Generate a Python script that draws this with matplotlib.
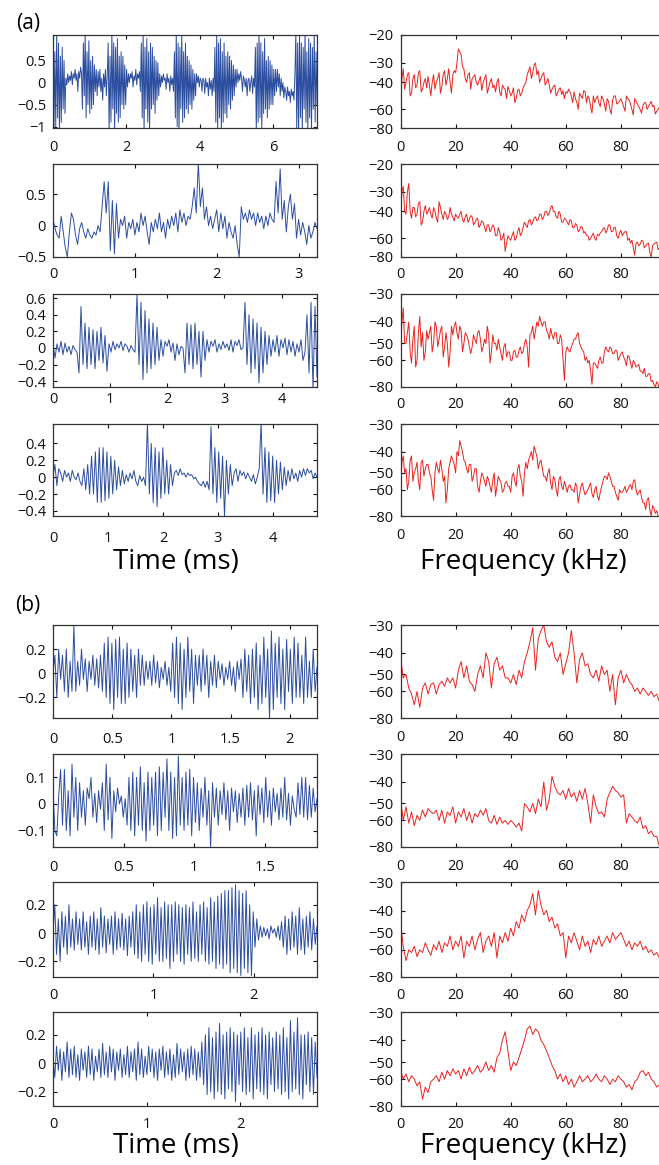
import numpy as np
import matplotlib
matplotlib.use("Agg")
import matplotlib.pyplot as plt
from matplotlib.ticker import FuncFormatter

plt.rcParams['font.family'] = ['Open Sans', 'DejaVu Sans']

# ---------------- data ----------------
# time-domain traces (amplitude), evenly sampled from 0 to TRACE_END (ms)
A1_SIGNAL = [1.15, -1.15, 0.7, -1.0, 1.15, -0.8, 0.9, -1.15, 0.6, -0.9, 0.8, -0.6, 0.5, -0.7,
             0.1, -0.05, 0.2, 0.0, 0.15, 0.05, 0.25, -0.05, 0.2, 0.1, 0.3, 0.05, 0.2, -0.2, 0.25, 0.1, 0.35, 0.2,
             -0.6, 0.9, -0.3, 1.15, -0.8, 0.7, -0.5, 0.95, -0.7, 0.5, -0.6, 0.6,
             -0.5, 0.4, -0.2, 0.3, -0.3, 0.25, -0.1, 0.3, -0.2, 0.1, -0.4, 0.2, -0.1, 0.3, -0.3, 0.2,
             0.9, -1.15, 0.6, -0.9, 1.15, -0.6, 0.9, -1.15, 0.8, -0.7, 1.0, -0.9, 0.6, -0.8, 0.7, -0.5,
             0.6, -0.6, 0.4, -0.5,
             0.3, -0.1, 0.2, 0.0, 0.2, 0.1, 0.25, -0.1, 0.15, 0.05, 0.3, -0.05, 0.2, 0.1, 0.25, -0.2,
             0.9, -0.8, 1.15, -1.15, 0.8, -0.6, 1.0, -0.9, 0.7, -1.15, 0.9, -0.6, 0.8, -0.5, 0.6, -0.7,
             0.5, -0.4, 0.45, -0.3,
             0.2, -0.1, 0.15, 0.0, 0.2, 0.05, 0.1, -0.15, 0.2, 0.0, 0.1, -0.2, 0.15, -0.05, 0.1, -0.2,
             0.7, -0.8, 1.15, -1.0, 0.9, -1.15, 0.8, -0.6, 1.15, -0.9, 0.7, -0.8, 0.9, -0.6, 0.6, -0.7,
             0.5, -0.5, 0.4, -0.6, 0.3, -0.4,
             0.2, -0.3, 0.2, 0.0, 0.15, -0.1, 0.1, 0.05, -0.2, 0.1, 0.05, -0.25, 0.1, -0.1, 0.0, -0.3,
             0.1, -0.15, 0.05, -0.3, 0.1, -0.2,
             0.8, -0.9, 1.15, -1.15, 0.9, -0.8, 1.0, -1.15, 0.7, -0.9, 0.9, -0.7, 0.6, -0.8, 0.7, -0.5,
             0.6, -0.6, 0.5, -0.4, 0.4, -0.3,
             0.3, -0.1, 0.3, 0.0, 0.2, 0.05, 0.25, 0.1, -0.2, 0.15, 0.05, -0.1, 0.1, -0.3, 0.05, 0.1,
             -0.2, 0.0, 0.15, -0.25, 0.1, -0.1,
             0.8, -1.15, 0.9, -0.9, 1.15, -0.8, 0.9, -1.15, 0.7, -0.7, 1.0, -0.6, 0.5, -0.8, 0.6, -0.6,
             0.5, -0.5, 0.4, -0.5, 0.3, -0.3,
             0.3, -0.2, 0.3, -0.1, 0.2, -0.3, 0.1, -0.2, 0.0, -0.35, -0.1, -0.2, -0.4, -0.1, -0.3, -0.2,
             -0.45, -0.15, -0.3, -0.2, -0.4, 0.2,
             1.15, -1.15, 0.9, -1.15, 1.15, -0.8, 0.9, -1.15, 0.8, -0.6, 1.15, -0.9, 0.7, -1.15, 1.0, -0.8,
             0.9, -1.15, 0.8, -0.6, 1.15, -0.9, 0.7, -0.5]

A2_SIGNAL = [0.1, -0.05, -0.15, -0.2, 0.15, -0.1, -0.35, -0.5,
             -0.1, 0.2, 0.1, -0.15, -0.3, -0.05, 0.05, -0.1,
             -0.2, -0.05, -0.15, -0.2, -0.1, -0.15, 0.0, -0.1,
             0.3, 0.7, 0.2, 0.7, -0.4, 0.4, -0.45, 0.35,
             -0.2, 0.1, 0.0, 0.15, -0.2, 0.05, -0.05, 0.1,
             -0.15, 0.05, -0.1, 0.2, 0.0, 0.15, -0.1, -0.3,
             0.05, -0.1, 0.1, -0.05, 0.2, -0.1, 0.05, -0.2,
             0.1, -0.05, 0.15, 0.0, 0.2, -0.1, 0.25, 0.05,
             0.2, 0.0, 0.15, 0.1, 0.3, 0.6, 0.2, 1.0,
             0.3, 0.6, 0.1, 0.3, 0.0, 0.15, -0.05, 0.1,
             0.25, -0.1, 0.2, -0.05, 0.15, -0.2, 0.05, -0.1,
             -0.2, 0.0, -0.3, -0.5, 0.3, 0.1, 0.2, 0.05,
             0.25, 0.1, 0.2, 0.0, 0.2, 0.05, 0.15, -0.05,
             0.15, 0.0, 0.2, 0.1, 0.05, 0.7, 0.2, 0.9,
             0.1, 0.4, -0.1, 0.3, 0.5, 0.1, 0.35, -0.2,
             0.1, -0.15, 0.05, -0.1, -0.3, 0.0, -0.2, -0.1,
             0.05, -0.05]

A3_SIGNAL = [0.05, -0.12, 0.05, -0.05, 0.08, -0.08, 0.06, -0.05, 0.02, -0.08, 0.03, -0.02, -0.05,
             -0.3, 0.5, -0.2, 0.3, -0.25, 0.25, -0.2, 0.22, -0.25, 0.2, -0.15, 0.25, -0.18, 0.15, -0.28,
             0.05, -0.05, 0.08, -0.02, 0.05, 0.0, 0.08, -0.03, 0.05, 0.02, -0.05, 0.03, -0.02, -0.05,
             0.65, -0.2, 0.55, -0.38, 0.45, -0.3, 0.35, -0.25, 0.3, -0.2, 0.25, -0.15, 0.1, -0.1,
             0.08, 0.02, 0.1, -0.05, 0.06, -0.15, 0.05, -0.08, 0.02, 0.0,
             -0.3, 0.3, -0.2, 0.28, -0.25, 0.3, -0.2, 0.2, -0.35, 0.2, -0.15, 0.1,
             -0.05, 0.08, 0.02, 0.1, -0.05, 0.05, -0.02, 0.08, 0.0, 0.05, -0.03, 0.1, -0.05, 0.08, 0.03, 0.1, -0.02, 0.0,
             0.55, -0.2, 0.4, -0.3, 0.35, -0.25, 0.3, -0.42, 0.25, -0.3, 0.2, -0.2, 0.15, -0.1, 0.1,
             -0.05, 0.15, -0.1, 0.1, 0.0, 0.12, -0.08, 0.1, -0.05, 0.08, -0.1, 0.05, -0.05, 0.1, -0.15, -0.05,
             0.4, -0.3, 0.55, -0.5, 0.5, -0.35]

A4_SIGNAL = [0.0, 0.15, -0.1, 0.1, 0.05, -0.05, 0.08, 0.0, 0.05, -0.05, 0.08, 0.0, -0.03, 0.05, -0.05,
             -0.1, 0.1, -0.15, 0.15, -0.2, 0.25, -0.2, 0.3, -0.3, 0.35, -0.3, 0.35, -0.28, 0.3, -0.25,
             0.25, -0.2, 0.2, -0.15, 0.12, -0.1, 0.08, -0.08,
             0.03, -0.05, 0.05, -0.02, 0.08, -0.05, -0.1, 0.02, -0.05, 0.0, -0.1,
             0.65, -0.2, 0.4, -0.3, 0.35, -0.35, 0.3, -0.25, 0.35, -0.2, 0.2, -0.2, 0.15, -0.1,
             0.05, 0.08, 0.02, 0.1, 0.03, 0.05, 0.0, 0.05, 0.02, 0.03, -0.02, 0.0, -0.05, -0.08, -0.1,
             -0.05, -0.12, -0.05, -0.15,
             0.6, -0.2, 0.35, -0.3, 0.3, -0.25, 0.25, -0.47, 0.2, -0.2, 0.15, -0.1,
             0.05, 0.1, -0.05, 0.08, 0.02, 0.06, -0.02, 0.05, 0.0, -0.05, 0.03, -0.08, 0.0,
             0.1, 0.65, -0.2, 0.35, -0.3, 0.3, -0.28, 0.25, -0.3, 0.2, -0.2, 0.18, -0.15, 0.12, -0.1,
             0.08, -0.05, 0.1, -0.02, 0.05, -0.05, 0.08, 0.0, 0.1, 0.02, 0.1, 0.05, 0.08, -0.02, 0.05, 0.0]

B1_SIGNAL = [0.0, 0.15, -0.2, 0.2, -0.05, 0.15, -0.15, 0.2, -0.2, 0.1, -0.15, 0.4, -0.15,
             0.1, -0.1, 0.2, -0.05, 0.12, -0.15, 0.1, -0.05, 0.15, -0.1, 0.12, -0.12, 0.15,
             -0.15, 0.25, -0.2, 0.3, -0.25, 0.25, -0.3, 0.28, -0.2, 0.3, -0.25, 0.2, -0.25, 0.25,
             -0.2, 0.2, -0.15, 0.15, -0.2, 0.2, -0.1, 0.15, -0.1, 0.1,
             -0.05, 0.1, -0.1, 0.15, -0.08, 0.1, -0.12, 0.05, -0.05, 0.1, -0.1, 0.05, -0.15,
             0.25, -0.2, 0.3, -0.25, 0.25, -0.3, 0.2, -0.2, 0.3, -0.15, 0.2, -0.25, 0.15,
             -0.1, 0.15, -0.15, 0.2, -0.1, 0.15, -0.2, 0.1, -0.1, 0.15, -0.12, 0.1, -0.05, 0.08,
             -0.1, 0.05, -0.05, 0.1,
             -0.1, 0.05, -0.15, 0.1, -0.05, 0.12, -0.2, 0.2, -0.15, 0.15, -0.25, 0.2, -0.2,
             0.25, -0.3, 0.15, -0.25, 0.3, -0.2, 0.2, -0.38, 0.35, -0.3, 0.25, -0.2, 0.3, -0.25,
             0.2, -0.3, 0.28, -0.15, 0.2, -0.25, 0.3, -0.2, 0.25, -0.2, 0.15, -0.25, 0.3, -0.2,
             0.1, -0.2, 0.2, -0.15, 0.05]

B2_SIGNAL = [0.05, -0.1, -0.12, 0.03, 0.13, -0.08, 0.13, -0.1, 0.05, -0.12, 0.15, -0.05, 0.1, -0.1,
             0.08, -0.05, 0.05, -0.08, 0.06, 0.02,
             0.1, -0.05, 0.04, -0.07, 0.05, -0.02, 0.08, -0.1, 0.15, -0.06, 0.1, -0.13, 0.05, -0.03,
             0.06, 0.0, 0.03, -0.05, 0.02, -0.08,
             0.1, -0.1, 0.12, -0.12, 0.1, -0.08, 0.14, -0.1, 0.08, -0.14, 0.12, -0.1, 0.1, -0.08,
             0.12, -0.12, 0.14, -0.1, 0.12, -0.05,
             0.17, -0.1, 0.12, -0.13, 0.1, -0.12, 0.18, -0.08, 0.1, -0.1, 0.12, -0.08, 0.13, -0.12,
             0.1, -0.07, 0.08, -0.1, 0.06, -0.05,
             0.1, -0.08, 0.05, -0.165, 0.08, -0.05, 0.06, -0.08, 0.05, -0.04, 0.08, -0.06, 0.05, -0.1,
             0.06, -0.03, 0.05, -0.07, 0.04, -0.05,
             0.06, -0.08, 0.07, -0.05, 0.08, -0.06, 0.05, -0.12, 0.07, -0.04, 0.06, -0.07, 0.1, -0.05,
             0.05, -0.08, 0.06, -0.03, 0.04, -0.06,
             0.06, -0.05, 0.1, -0.06, 0.04, -0.08, 0.03, -0.02, -0.05, 0.08, -0.04, 0.1, -0.05, 0.1,
             -0.06, 0.07, -0.05, 0.06, -0.03, 0.02]

B3_SIGNAL = [0.0, 0.2, -0.15, 0.1, -0.2, 0.15, -0.1, 0.12, -0.15, 0.2, -0.1, 0.1, -0.12, 0.15, -0.08,
             0.1, -0.12, 0.15, -0.1, 0.08, -0.15, 0.12, -0.1, 0.15, -0.12, 0.1, -0.15, 0.18, -0.1, 0.12,
             -0.14, 0.1, -0.08, 0.12, -0.15, 0.15, -0.12, 0.1, -0.1, 0.14, -0.12, 0.1, -0.16, 0.12, -0.1,
             0.15, -0.15, 0.2, -0.18, 0.15, -0.2, 0.2, -0.15, 0.22, -0.2, 0.18, -0.22, 0.2, -0.15, 0.25,
             -0.2, 0.18, -0.2, 0.22, -0.18, 0.2, -0.25, 0.2, -0.2, 0.22, -0.15, 0.2, -0.2, 0.18, -0.22,
             0.2, -0.15, 0.18, -0.2, 0.22, -0.18, 0.15, -0.2, 0.2, -0.15, 0.22, -0.2, 0.18, -0.22, 0.25,
             -0.2, 0.22, -0.25, 0.26, -0.22, 0.28, -0.25, 0.3, -0.22, 0.3,
             -0.28, 0.32, -0.25, 0.34, -0.28, 0.3, -0.3, 0.28, -0.25, 0.3, -0.28, 0.2, -0.3, 0.15, -0.1,
             0.1, -0.05,
             0.05, -0.03, 0.04, -0.02, 0.03, -0.04, 0.05, 0.0, 0.03, -0.03, 0.05, -0.05, 0.08,
             -0.1, 0.12, -0.15, 0.1, -0.12, 0.15, -0.1, 0.12, -0.15, 0.18, -0.12, 0.1, -0.15, 0.12, -0.1,
             0.15, -0.12, 0.1, -0.08, 0.05]

B4_SIGNAL = [0.05, -0.1, 0.12, -0.05, 0.1, -0.12, 0.08, -0.06, 0.15, -0.1, 0.1, -0.08, 0.12, -0.1,
             0.06, -0.12, 0.1, -0.05, 0.08, -0.1, 0.12, -0.08, 0.1, -0.12, 0.05, -0.06, 0.1, -0.1,
             0.14, -0.08, 0.08, -0.1, 0.12, -0.06, 0.1, -0.12, 0.08, -0.05, 0.1, -0.1, 0.06, -0.08,
             0.12, -0.1, 0.08, -0.06, 0.1, -0.12, 0.15, -0.08, 0.1, -0.1, 0.05, -0.08, 0.12, -0.06,
             0.1, -0.1, 0.08, -0.12, 0.1, -0.05, 0.12, -0.1, 0.08, -0.08, 0.1, -0.12, 0.06, -0.1,
             0.14, -0.08, 0.1, -0.06, 0.08, -0.12, 0.1, -0.1, 0.12, -0.08, 0.1, -0.12, 0.08, -0.1, 0.15,
             -0.15, 0.2, -0.22, 0.25, -0.2, 0.18, -0.25, 0.22, -0.2, 0.28, -0.22, 0.2, -0.25, 0.22,
             -0.18, 0.25, -0.2, 0.22, -0.27, 0.2, -0.15, 0.22, -0.2, 0.25, -0.22, 0.18, -0.2, 0.25,
             -0.25, 0.2, -0.18, 0.22, -0.2, 0.25, -0.22, 0.2, -0.25, 0.22, -0.15, 0.18, -0.2, 0.22,
             -0.18, 0.2, -0.22, 0.25, -0.2, 0.18, -0.25, 0.3, -0.2, 0.22, -0.18, 0.32, -0.22, 0.2,
             -0.25, 0.2, -0.15, 0.22, -0.2, 0.18, -0.22, 0.15, -0.1]

TRACE_END = [7.2, 3.225, 4.62, 4.8, 2.23, 1.87, 2.63, 2.82]   # ms

# spectra (dB) from 0 to 100 kHz, evenly spaced
A1_SPEC = [-60, -38, -33, -45, -40, -36, -35, -50, -48, -38, -36, -44, -42, -35, -34, -47, -45, -40, -38, -44, -37,
           -42, -50, -40, -36, -45, -40, -38, -35, -48, -43, -36, -34, -42, -38, -33, -40, -48, -36, -34, -35,
           -30, -25, -26, -27, -32, -33, -38, -40, -36, -35, -45, -38, -37, -36, -40, -42, -39, -37, -46, -40,
           -38, -36, -48, -44, -40, -38, -44, -42, -47, -40, -38, -47, -50, -42, -44, -45, -52, -43, -46, -50,
           -48, -44, -55, -52, -46, -45, -50, -48, -44, -42, -40, -36, -34, -32, -38, -35, -31, -30, -36, -34,
           -40, -38, -36, -35, -42, -40, -38, -42, -48, -45, -43, -42, -50, -48, -45, -44, -49, -46, -52, -47,
           -48, -45, -47, -50, -55, -47, -52, -55, -60, -48, -50, -52, -46, -47, -55, -50, -52, -58, -64, -50,
           -55, -52, -50, -55, -58, -50, -52, -56, -62, -52, -54, -60, -65, -53, -50, -50, -56, -55, -54, -52,
           -55, -58, -62, -50, -52, -53, -56, -60, -66, -52, -54, -56, -58, -60, -64, -57, -55, -55, -60, -58,
           -56, -54, -58, -57, -65, -62, -60, -58, -56, -60, -64, -57, -58, -61, -60, -59, -62, -62, -58, -60]
A2_SPEC = [-50, -30, -28, -40, -42, -30, -27, -40, -45, -38, -38, -44, -42, -36, -35, -50, -48, -40, -37, -42, -40,
           -38, -42, -45, -38, -40, -45, -48, -35, -38, -42, -46, -40, -42, -46, -44, -38, -42, -44, -47, -42,
           -44, -45, -42, -40, -46, -48, -44, -42, -48, -46, -43, -44, -50, -48, -46, -45, -52, -50, -47, -48,
           -52, -55, -50, -50, -55, -53, -50, -52, -58, -58, -52, -55, -62, -60, -56, -74, -65, -58, -60, -62,
           -58, -55, -62, -60, -55, -52, -58, -56, -52, -48, -50, -52, -47, -46, -50, -48, -45, -44, -47, -46,
           -42, -42, -46, -44, -40, -40, -43, -41, -38, -37, -40, -40, -44, -45, -40, -42, -48, -48, -45, -46,
           -48, -50, -46, -47, -52, -52, -49, -50, -55, -54, -51, -52, -56, -55, -58, -58, -62, -60, -58, -56,
           -60, -62, -57, -58, -56, -55, -53, -52, -56, -54, -50, -50, -55, -55, -52, -52, -58, -60, -56, -54,
           -58, -56, -55, -55, -62, -60, -65, -62, -70, -78, -65, -64, -68, -66, -62, -63, -70, -68, -66, -65,
           -75, -80, -68, -66, -65, -64, -72, -70, -66, -68, -74, -72, -68, -70, -76, -74, -70, -72, -76, -75]
A3_SPEC = [-58, -40, -35, -50, -50, -45, -40, -55, -62, -48, -42, -65, -60, -45, -38, -52, -45, -60, -55, -44, -48,
           -45, -42, -55, -50, -40, -42, -52, -48, -44, -42, -58, -52, -45, -50, -65, -55, -42, -46, -42, -40,
           -45, -48, -42, -44, -55, -50, -45, -46, -48, -52, -56, -52, -46, -48, -50, -45, -44, -48, -55, -52,
           -48, -50, -42, -46, -62, -55, -46, -50, -50, -54, -48, -52, -56, -60, -52, -50, -58, -55, -55, -60,
           -60, -55, -54, -58, -58, -54, -52, -56, -55, -50, -48, -52, -65, -46, -45, -42, -48, -44, -40, -42,
           -38, -40, -42, -40, -40, -44, -45, -48, -43, -46, -48, -45, -45, -50, -50, -46, -48, -60, -75, -55,
           -52, -54, -55, -52, -50, -48, -48, -46, -45, -50, -52, -54, -55, -60, -58, -62, -60, -68, -78, -62,
           -62, -64, -66, -60, -58, -62, -62, -55, -52, -54, -55, -52, -53, -56, -56, -54, -54, -60, -58, -56,
           -55, -58, -60, -64, -57, -58, -62, -66, -60, -62, -65, -64, -63, -68, -68, -70, -66, -72, -72, -70,
           -70, -76, -75, -78, -80, -76, -78, -82, -80, -78, -78, -82, -82, -80, -80, -84, -82, -80, -82, -82]
A4_SPEC = [-60, -45, -42, -50, -48, -60, -55, -44, -42, -55, -50, -48, -45, -55, -60, -45, -44, -52, -48, -46, -46,
           -50, -52, -60, -68, -50, -45, -48, -50, -44, -48, -55, -52, -70, -60, -48, -45, -42, -44, -46, -50,
           -40, -42, -36, -38, -40, -44, -45, -48, -50, -46, -46, -55, -52, -48, -48, -58, -62, -55, -50, -52,
           -55, -58, -52, -54, -58, -62, -54, -50, -65, -58, -52, -54, -56, -62, -60, -56, -55, -58, -58, -62,
           -52, -50, -55, -58, -48, -46, -52, -55, -65, -50, -45, -48, -44, -42, -40, -44, -38, -40, -42, -48,
           -45, -44, -48, -52, -52, -55, -50, -48, -56, -60, -52, -54, -60, -65, -54, -52, -58, -60, -55, -58,
           -62, -58, -57, -60, -60, -62, -56, -58, -70, -64, -58, -56, -60, -64, -62, -60, -58, -56, -63, -66,
           -60, -58, -65, -68, -62, -58, -55, -52, -52, -54, -50, -52, -55, -58, -58, -62, -65, -68, -60, -62,
           -62, -60, -58, -62, -60, -58, -57, -60, -55, -54, -60, -64, -62, -60, -66, -70, -70, -75, -68, -66,
           -75, -80, -72, -74, -78, -76, -80, -82, -76, -74, -80, -82, -78, -80, -82, -84, -80, -78, -82, -82]
B1_SPEC = [-42, -52, -50, -58, -62, -70, -60, -72, -58, -55, -62, -56, -55, -62, -56, -54, -57, -52, -55, -52,
           -58, -48, -44, -52, -46, -54, -56, -60, -50, -46, -52, -40, -44, -58, -45, -42, -48, -46, -52, -52,
           -55, -50, -56, -48, -52, -44, -40, -36, -31, -48, -35, -32, -30, -36, -38, -36, -42, -44, -40, -50,
           -45, -40, -32, -40, -55, -43, -40, -46, -45, -50, -52, -48, -54, -46, -50, -48, -60, -50, -70, -52,
           -48, -55, -50, -54, -56, -60, -58, -62, -58, -60, -63, -60, -64, -62, -68, -72, -74, -72, -75, -74, -76]
B2_SPEC = [-48, -60, -52, -62, -55, -64, -57, -60, -54, -58, -53, -55, -56, -54, -60, -54, -62, -55, -57, -52,
           -62, -55, -58, -53, -60, -55, -62, -56, -58, -54, -57, -53, -60, -62, -57, -63, -58, -62, -60, -63,
           -60, -62, -65, -62, -68, -50, -52, -55, -50, -56, -48, -52, -40, -54, -48, -38, -42, -45, -46, -44,
           -48, -43, -47, -45, -49, -44, -48, -43, -50, -62, -46, -52, -56, -55, -58, -48, -45, -42, -44, -45,
           -47, -46, -62, -56, -58, -60, -62, -58, -66, -64, -70, -68, -72, -72, -80, -76, -80, -78, -82, -80, -82]
B3_SPEC = [-45, -58, -68, -60, -62, -58, -65, -60, -62, -56, -60, -64, -57, -60, -55, -62, -56, -58, -52, -60,
           -55, -58, -52, -66, -55, -58, -52, -60, -54, -50, -62, -55, -52, -58, -50, -66, -52, -56, -50, -55,
           -48, -52, -45, -48, -42, -45, -40, -38, -34, -42, -33, -38, -42, -40, -45, -43, -48, -46, -52, -50,
           -66, -52, -56, -50, -55, -60, -52, -58, -55, -62, -54, -57, -52, -58, -55, -52, -56, -50, -54, -52,
           -50, -54, -58, -55, -60, -56, -58, -55, -60, -58, -62, -60, -64, -62, -66, -64, -66, -68, -66, -70, -68]
B4_SPEC = [-55, -60, -57, -62, -58, -60, -65, -62, -75, -66, -70, -62, -60, -58, -62, -56, -60, -55, -58, -54,
           -57, -55, -60, -54, -58, -53, -57, -55, -52, -56, -54, -50, -55, -52, -56, -48, -46, -40, -37, -45,
           -55, -50, -52, -48, -44, -40, -36, -35, -38, -36, -37, -40, -42, -45, -48, -52, -55, -60, -57, -62,
           -58, -64, -60, -66, -62, -58, -62, -60, -58, -62, -60, -57, -60, -62, -58, -60, -64, -60, -62, -58,
           -60, -62, -66, -64, -68, -62, -60, -56, -55, -58, -56, -60, -62, -66, -64, -68, -66, -70, -68, -72, -70]

SIGNALS = [A1_SIGNAL, A2_SIGNAL, A3_SIGNAL, A4_SIGNAL, B1_SIGNAL, B2_SIGNAL, B3_SIGNAL, B4_SIGNAL]
SPECTRA = [A1_SPEC, A2_SPEC, A3_SPEC, A4_SPEC, B1_SPEC, B2_SPEC, B3_SPEC, B4_SPEC]
FREQ_END = 100  # kHz

TIME_XTICKS = [[0, 2, 4, 6], [0, 1, 2, 3], [0, 1, 2, 3, 4], [0, 1, 2, 3, 4],
               [0, 0.5, 1, 1.5, 2], [0, 0.5, 1, 1.5], [0, 1, 2], [0, 1, 2]]
TIME_YTICKS = [[-1, -0.5, 0, 0.5], [-0.5, 0, 0.5], [-0.4, -0.2, 0, 0.2, 0.4, 0.6],
               [-0.4, -0.2, 0, 0.2, 0.4], [-0.2, 0, 0.2], [-0.1, 0, 0.1], [-0.2, 0, 0.2], [-0.2, 0, 0.2]]
TIME_YLIM = [(-1.03, 1.08), (-0.49, 0.98), (-0.47, 0.65), (-0.46, 0.63),
             (-0.37, 0.40), (-0.162, 0.188), (-0.31, 0.36), (-0.30, 0.36)]
FREQ_XTICKS = [0, 20, 40, 60, 80]
SPEC_YTICKS_A = [-80, -60, -40, -30, -20]
SPEC_YTICKS_B = [-80, -60, -50, -40, -30]

# ---------------- layout ----------------
W, H = 659, 1165
fig = plt.figure(figsize=(W / 100, H / 100), dpi=100)

ROWS = [(35, 128), (164, 257), (294, 387), (424, 516),
        (625, 718), (754, 847), (882, 977), (1012, 1106)]
LEFT_X = (53, 317)
RIGHT_X = (400.5, 676)
LEFT_PAD = [12, 10, 5, 15, 14, 13, 11, 11]
RIGHT_PAD = [12, 10, 10, 12, 12, 12, 11, 11]

BLUE = '#2c4ea0'
RED = '#e8231d'
SPINE = '#333333'


def add_ax(xr, yr):
    x0, x1 = xr
    y0, y1 = yr
    return fig.add_axes([x0 / W, 1 - y1 / H, (x1 - x0) / W, (y1 - y0) / H])


def num_fmt(v, pos=None):
    if abs(v) < 1e-9:
        return '0'
    return ('%g' % round(v, 6)).replace('-', '\u2212')


def piecewise(vals, fracs):
    vals = np.asarray(vals, float)
    fracs = np.asarray(fracs, float)

    def mk(xs, ys):
        s0 = (ys[1] - ys[0]) / (xs[1] - xs[0])
        s1 = (ys[-1] - ys[-2]) / (xs[-1] - xs[-2])

        def f(v):
            v = np.asarray(v, float)
            out = np.interp(v, xs, ys)
            out = np.where(v < xs[0], ys[0] + (v - xs[0]) * s0, out)
            out = np.where(v > xs[-1], ys[-1] + (v - xs[-1]) * s1, out)
            return out
        return f
    return mk(vals, fracs), mk(fracs, vals)


SCALE_A = piecewise(SPEC_YTICKS_A, [0.0, 0.20, 0.49, 0.70, 1.0])
SCALE_B = piecewise(SPEC_YTICKS_B, [0.0, 0.286, 0.468, 0.70, 1.0])


def style(ax, pad_px):
    ax.tick_params(direction='in', top=True, right=True, length=3, width=0.8,
                   labelsize=10.5, colors='#111111')
    ax.tick_params(axis='x', pad=pad_px * 0.72)
    ax.tick_params(axis='y', pad=5)
    for s in ax.spines.values():
        s.set_linewidth(0.9)
        s.set_color(SPINE)


for i in range(8):
    # time trace
    ax = add_ax(LEFT_X, ROWS[i])
    sig = np.asarray(SIGNALS[i], float)
    t = np.linspace(0, TRACE_END[i], len(sig))
    ax.plot(t, sig, color=BLUE, lw=0.7)
    ax.set_xlim(0, TRACE_END[i])
    ax.set_ylim(*TIME_YLIM[i])
    ax.set_xticks(TIME_XTICKS[i])
    ax.set_yticks(TIME_YTICKS[i])
    ax.xaxis.set_major_formatter(FuncFormatter(num_fmt))
    ax.yaxis.set_major_formatter(FuncFormatter(num_fmt))
    style(ax, LEFT_PAD[i])

    # spectrum
    ax2 = add_ax(RIGHT_X, ROWS[i])
    spec = np.asarray(SPECTRA[i], float)
    freq = np.linspace(0, FREQ_END, len(spec))
    if i < 2:
        ax2.set_yscale('function', functions=SCALE_A)
        yt = SPEC_YTICKS_A
    else:
        ax2.set_yscale('function', functions=SCALE_B)
        yt = SPEC_YTICKS_B
    ax2.plot(freq, spec, color=RED, lw=0.7)
    ax2.set_xlim(0, FREQ_END)
    ax2.set_ylim(yt[0], yt[-1])
    ax2.set_xticks(FREQ_XTICKS)
    ax2.set_yticks(yt)
    ax2.xaxis.set_major_formatter(FuncFormatter(num_fmt))
    ax2.yaxis.set_major_formatter(FuncFormatter(num_fmt))
    ax2.minorticks_off()
    style(ax2, RIGHT_PAD[i])

# axis titles and panel letters
for base in (569, 1153):
    fig.text(176 / W, 1 - base / H, 'Time (ms)', ha='center', va='baseline', fontsize=20)
    fig.text(523 / W, 1 - base / H, 'Frequency (kHz)', ha='center', va='baseline', fontsize=20)
fig.text(16 / W, 1 - 23 / H, '(a)', ha='left', va='center', fontsize=15)
fig.text(15 / W, 1 - 606 / H, '(b)', ha='left', va='center', fontsize=15)

fig.savefig('out.png', dpi=100)
